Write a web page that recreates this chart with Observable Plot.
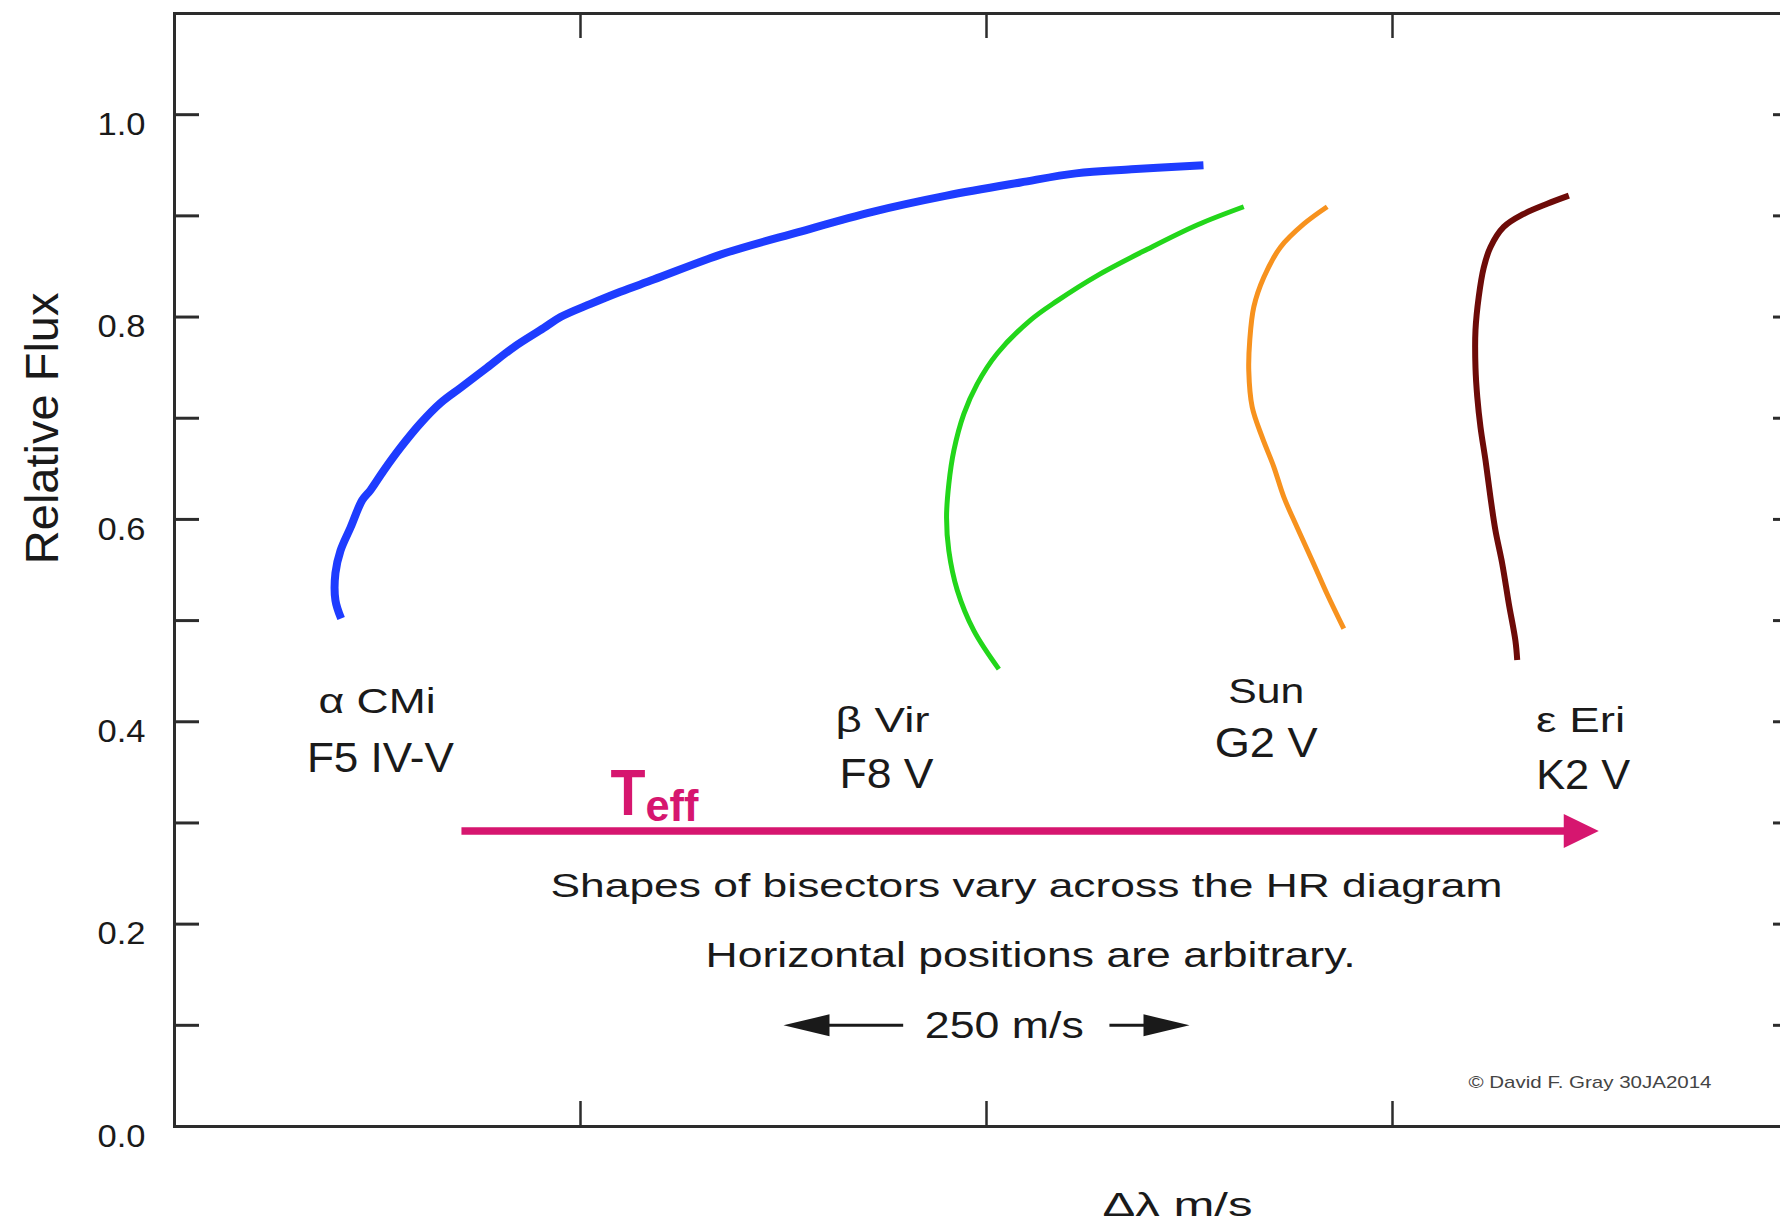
<!DOCTYPE html>
<html>
<head>
<meta charset="utf-8">
<script src="https://cdn.jsdelivr.net/npm/d3@7"></script>
<script src="https://cdn.jsdelivr.net/npm/@observablehq/plot@0.6"></script>
<style>
  html, body { margin: 0; padding: 0; background: #fff; overflow: hidden; }
  #chart svg { display: block; }
</style>
</head>
<body>
<div id="chart"></div>
<script>
// Line bisectors: [Δλ (m/s), relative flux], traced from bottom (line core) to top (continuum side)
const alphaCMi = [
  [102.6, 0.502], [99.1, 0.520], [99.1, 0.547], [102.2, 0.569], [108.4, 0.592],
  [115.6, 0.619], [120.7, 0.629], [128.7, 0.648], [139.2, 0.671], [151.5, 0.695],
  [163.8, 0.715], [176.1, 0.730], [192.5, 0.750], [208.7, 0.770], [227.2, 0.789],
  [237.7, 0.800], [256.2, 0.813], [274.6, 0.825], [295.0, 0.837], [338.7, 0.863],
  [384.2, 0.884], [429.8, 0.904], [475.4, 0.920], [520.9, 0.933], [555.1, 0.942],
  [589.3, 0.946], [633.6, 0.950]
];
const betaVir = [
  [507.6, 0.452], [492.2, 0.490], [482.0, 0.530], [476.8, 0.569], [475.4, 0.602],
  [476.8, 0.635], [479.9, 0.668], [486.0, 0.704], [494.3, 0.734], [506.6, 0.764],
  [527.1, 0.797], [543.5, 0.816], [568.2, 0.841], [599.0, 0.867], [629.7, 0.891],
  [658.4, 0.909]
];
const sun = [
  [720.0, 0.492], [709.8, 0.526], [701.5, 0.556], [691.3, 0.592], [683.1, 0.622],
  [676.9, 0.652], [669.8, 0.681], [663.6, 0.711], [661.5, 0.747], [662.1, 0.777],
  [664.6, 0.810], [670.7, 0.839], [681.0, 0.869], [695.4, 0.892], [709.8, 0.909]
];
const epsEri = [
  [826.8, 0.461], [825.7, 0.480], [821.6, 0.517], [817.6, 0.556], [813.4, 0.589],
  [810.3, 0.622], [807.3, 0.658], [804.2, 0.691], [802.2, 0.721], [801.1, 0.750],
  [801.1, 0.787], [803.1, 0.820], [806.2, 0.849], [810.3, 0.869], [818.5, 0.889],
  [830.9, 0.902], [845.3, 0.912], [858.6, 0.920]
];

// Star labels and where they sit (data units: m/s, relative flux)
const starNames = ["α CMi", "β Vir", "Sun", "ε Eri"];
const spectralTypes = ["F5 IV-V", "F8 V", "G2 V", "K2 V"];
const nameAnchors = [[124.7, 0.409], [436.0, 0.390], [672.2, 0.419], [865.8, 0.390]];
const typeAnchors = [[126.8, 0.350], [438.4, 0.335], [672.2, 0.365], [867.4, 0.334]];

// Axis ticks
const yTicks = [0, 0.1, 0.2, 0.3, 0.4, 0.5, 0.6, 0.7, 0.8, 0.9, 1.0];
const yTickLabels = [0, 0.2, 0.4, 0.6, 0.8, 1.0];
const xTicks = [250, 500, 750];

// Effective-temperature arrow and the 250 m/s scale bar
const teffArrow = {from: 177, to: 877, flux: 0.292};
const scaleBar = {from: 375, to: 625, flux: 0.1, gapFrom: 449, gapTo: 576};

const series = [
  {name: "α CMi", points: alphaCMi},
  {name: "β Vir", points: betaVir},
  {name: "Sun", points: sun},
  {name: "ε Eri", points: epsEri}
];
const seriesStyle = {
  "α CMi": {stroke: "#1e3cff", strokeWidth: 8},
  "β Vir": {stroke: "#22d61a", strokeWidth: 5},
  "Sun":   {stroke: "#f7921e", strokeWidth: 5},
  "ε Eri": {stroke: "#6d0b08", strokeWidth: 6}
};

const pink = "#d6166f";
const ink = "#1a1a1a";
const axisInk = "#2c2c2c";

// Filled arrowhead with its tip at the origin, pointing right
const arrowHead = (length, half) => ({
  draw(context) {
    context.moveTo(0, 0);
    context.lineTo(-length, -half);
    context.lineTo(-length, half);
    context.closePath();
  }
});

const W = 1780, H = 1226;
const mLeft = 174, mTop = 13, mBottom = 100, mRight = -18;
const innerW = W - mLeft - mRight, innerH = H - mTop - mBottom;
const tickLen = 25;

const labelRows = starNames.map((n, i) => ({name: n, type: spectralTypes[i],
  nx: nameAnchors[i][0], ny: nameAnchors[i][1], tx: typeAnchors[i][0], ty: typeAnchors[i][1]}));

const svg = Plot.plot({
  width: W,
  height: H,
  marginLeft: mLeft,
  marginRight: mRight,
  marginTop: mTop,
  marginBottom: mBottom,
  style: {fontFamily: "'Liberation Sans', Arial, Helvetica, sans-serif", background: "#fff", color: ink},
  x: {domain: [0, 1000], axis: null},
  y: {domain: [0, 1.1]},
  marks: [
    // inward ticks on all four sides
    Plot.tickY(yTicks, {y: d => d, insetRight: innerW - tickLen, stroke: axisInk, strokeWidth: 3}),
    Plot.tickY(yTicks, {y: d => d, insetLeft: innerW - tickLen, stroke: axisInk, strokeWidth: 3}),
    Plot.tickX(xTicks, {x: d => d, insetBottom: innerH - tickLen, stroke: axisInk, strokeWidth: 2.5}),
    Plot.tickX(xTicks, {x: d => d, insetTop: innerH - tickLen, stroke: axisInk, strokeWidth: 2.5}),
    Plot.frame({stroke: axisInk, strokeWidth: 3}),
    Plot.axisY({
      ticks: yTickLabels, tickSize: 0, tickPadding: 29, tickFormat: d3.format(".1f"),
      fontSize: 32, dy: 10, label: null, fill: ink
    }),
    Plot.text(["Relative Flux"], {
      x: -71.8, y: 0.690, text: d => d, rotate: -90, textAnchor: "middle",
      lineAnchor: "bottom", fontSize: 47, fill: ink
    }),
    Plot.text(["Δλ m/s"], {
      x: 617.6, y: -0.088, text: d => d, textAnchor: "middle",
      lineAnchor: "bottom", fontSize: 34, fill: ink
    }),

    // bisector curves
    ...series.map(s => Plot.line(s.points, {
      x: d => d[0], y: d => d[1], curve: "catmull-rom",
      stroke: seriesStyle[s.name].stroke, strokeWidth: seriesStyle[s.name].strokeWidth,
      strokeLinecap: "butt", strokeLinejoin: "round"
    })),

    // star names and spectral types
    Plot.text(labelRows, {x: "nx", y: "ny", text: "name", textAnchor: "middle", lineAnchor: "bottom", fontSize: 35, fill: ink}),
    Plot.text(labelRows, {x: "tx", y: "ty", text: "type", textAnchor: "middle", lineAnchor: "bottom", fontSize: 43, fill: ink}),

    // T_eff arrow
    Plot.ruleY([teffArrow.flux], {x1: teffArrow.from, x2: teffArrow.to - 20, stroke: pink, strokeWidth: 7.5}),
    Plot.dot([teffArrow], {x: "to", y: "flux", r: 10, symbol: arrowHead(35, 17), fill: pink, stroke: "none"}),
    Plot.text(["T"], {x: 268.5, y: 0.3074, text: d => d, textAnchor: "start", lineAnchor: "bottom", fontSize: 64, fontWeight: "bold", fill: pink}),
    Plot.text(["eff"], {x: 290.0, y: 0.3024, text: d => d, textAnchor: "start", lineAnchor: "bottom", fontSize: 44, fontWeight: "bold", fill: pink}),

    // notes
    Plot.text(["Shapes of bisectors vary across the HR diagram"], {
      x: 524.6, y: 0.2273, text: d => d, textAnchor: "middle", lineAnchor: "bottom", fontSize: 34, fill: ink
    }),
    Plot.text(["Horizontal positions are arbitrary."], {
      x: 527.1, y: 0.1574, text: d => d, textAnchor: "middle", lineAnchor: "bottom", fontSize: 35, fill: ink
    }),

    // 250 m/s scale bar
    Plot.ruleY([scaleBar.flux], {x1: scaleBar.from + 10, x2: scaleBar.gapFrom, stroke: ink, strokeWidth: 3}),
    Plot.ruleY([scaleBar.flux], {x1: scaleBar.gapTo, x2: scaleBar.to - 10, stroke: ink, strokeWidth: 3}),
    Plot.dot([scaleBar], {x: "from", y: "flux", r: 10, symbol: arrowHead(46, 11), rotate: 180, fill: ink, stroke: "none"}),
    Plot.dot([scaleBar], {x: "to", y: "flux", r: 10, symbol: arrowHead(46, 11), fill: ink, stroke: "none"}),
    Plot.text(["250 m/s"], {
      x: 511, y: 0.087, text: d => d, textAnchor: "middle", lineAnchor: "bottom", fontSize: 37, fill: ink
    }),

    Plot.text(["© David F. Gray 30JA2014"], {
      x: 796.8, y: 0.0385, text: d => d, textAnchor: "start", lineAnchor: "bottom", fontSize: 17, fill: "#444"
    })
  ]
});

// Set the rendered widths of the horizontal labels
const textWidths = new Map([
  ["α CMi", 117], ["F5 IV-V", 147], ["β Vir", 94], ["F8 V", 94],
  ["Sun", 76], ["G2 V", 103], ["ε Eri", 89], ["K2 V", 94],
  ["Shapes of bisectors vary across the HR diagram", 952],
  ["Horizontal positions are arbitrary.", 650],
  ["250 m/s", 159], ["Δλ m/s", 150], ["© David F. Gray 30JA2014", 243],
  ["T", 35], ["eff", 53],
  ["0.0", 48], ["0.2", 48], ["0.4", 48], ["0.6", 48], ["0.8", 48], ["1.0", 48]
]);
svg.querySelectorAll("text").forEach(t => {
  const w = textWidths.get(t.textContent);
  if (w) {
    t.setAttribute("textLength", w);
    t.setAttribute("lengthAdjust", "spacingAndGlyphs");
  }
});

document.getElementById("chart").appendChild(svg);
</script>
</body>
</html>
